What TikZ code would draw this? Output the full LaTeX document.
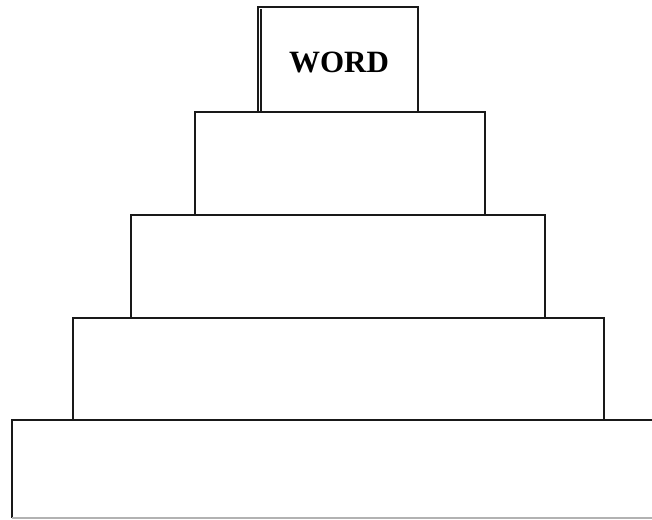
\documentclass[tikz,border=0pt]{standalone}
\usepackage{fontspec}
\setmainfont{Liberation Serif}

\begin{document}
\begin{tikzpicture}[
  x=1pt,y=-1pt,
  tier/.style={line width=1.9pt,black!90},
  word/.style={font=\bfseries\fontsize{31}{31}\selectfont}
]
  \useasboundingbox (0,0) rectangle (652,519);
  % tiers, top to bottom
  \draw[tier] (258,112) -- (258,7) -- (418,7) -- (418,112);
  \draw[tier] (261,112) -- (261,9);
  \node[word] (top) at (339,62) {WORD};
  \draw[tier] (195,112) rectangle (485,215);
  \draw[tier] (131,215) rectangle (545,318);
  \draw[tier] (73,318) rectangle (604,420);
  \draw[tier] (652,420) -- (12,420) -- (12,518);
  \draw[line width=1.2pt,black!30] (12,518) -- (652,518);
\end{tikzpicture}
\end{document}
